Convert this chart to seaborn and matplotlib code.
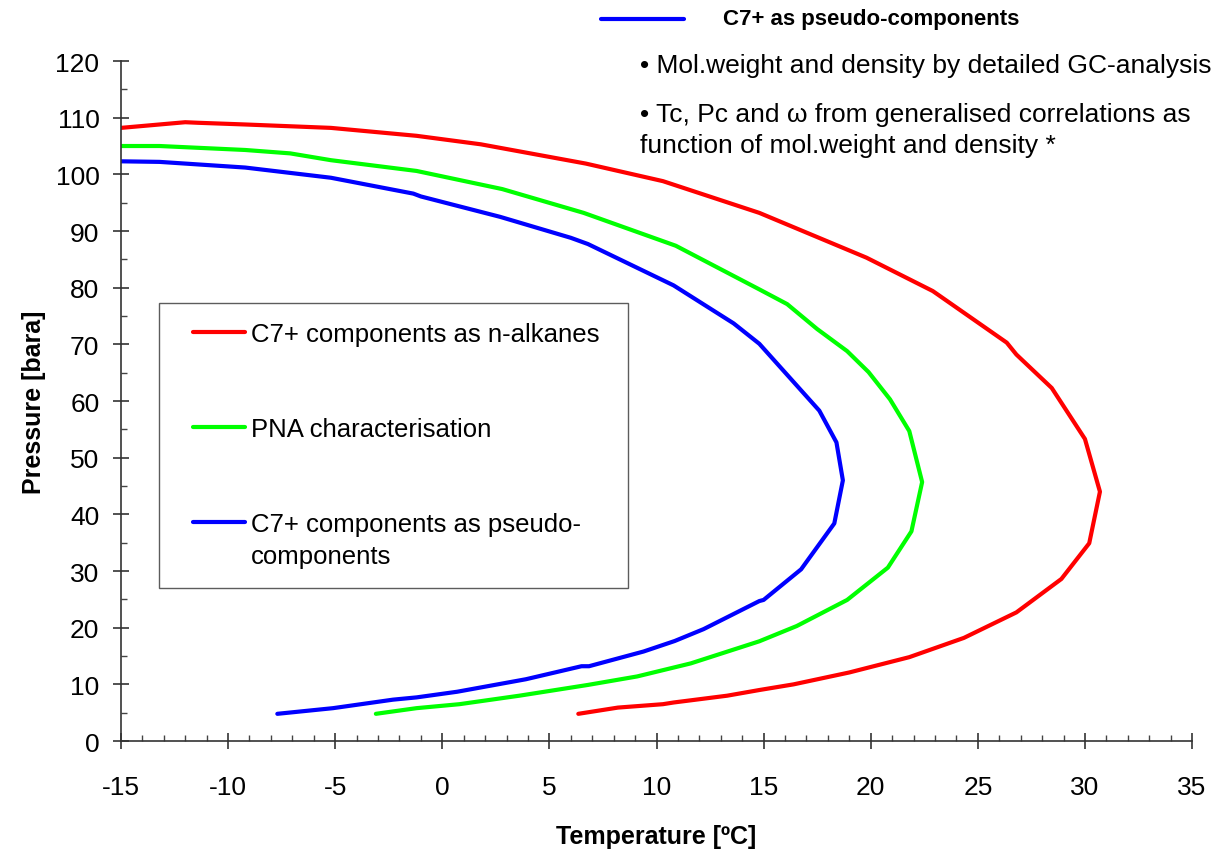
import matplotlib
matplotlib.use("Agg")
import matplotlib.pyplot as plt
from matplotlib.lines import Line2D
from matplotlib.ticker import MultipleLocator
import numpy as np
import pandas as pd
import seaborn as sns

# Phase envelopes (temperature in degC, pressure in bara)
alkane_t = [-15.0, -13.2, -12.0, -11.4, -9.2, -5.2, -1.2, 1.8, 6.7, 10.3, 14.8, 19.8,
            22.9, 26.35, 26.8, 28.45, 30.0, 30.7, 30.2, 28.9, 26.8, 24.35, 21.8, 19.0,
            16.4, 14.8, 13.3, 10.8, 10.3, 8.2, 6.35]
alkane_p = [108.2, 108.8, 109.2, 109.1, 108.8, 108.2, 106.8, 105.3, 101.9, 98.8, 93.2, 85.3,
            79.4, 70.3, 68.2, 62.3, 53.3, 44.0, 34.9, 28.6, 22.7, 18.2, 14.8, 12.1,
            10.0, 9.0, 8.0, 6.8, 6.5, 5.9, 4.8]

pna_t = [-15.0, -13.2, -9.2, -7.1, -5.2, -1.2, 2.8, 6.6, 10.9, 14.8, 16.1, 17.5,
         18.9, 19.9, 20.9, 21.8, 22.4, 21.9, 20.8, 18.9, 16.55, 14.8, 11.6, 9.1,
         6.8, 3.6, 0.8, -1.2, -3.1]
pna_p = [105.0, 105.0, 104.3, 103.7, 102.5, 100.6, 97.4, 93.2, 87.4, 79.7, 77.1, 72.7,
         68.8, 65.1, 60.3, 54.7, 45.7, 37.0, 30.6, 24.9, 20.3, 17.6, 13.7, 11.4,
         9.9, 8.0, 6.5, 5.8, 4.8]

pseudo_t = [-15.0, -13.2, -9.2, -5.2, -1.35, -1.0, 2.7, 6.0, 6.8, 10.8, 13.6, 14.8,
            17.6, 18.4, 18.7, 18.3, 16.75, 15.0, 14.8, 12.2, 10.85, 9.4, 6.85, 6.5,
            3.9, 0.7, -1.2, -2.3, -5.1, -7.7]
pseudo_p = [102.3, 102.2, 101.2, 99.4, 96.6, 96.1, 92.5, 88.8, 87.7, 80.4, 73.7, 70.1,
            58.3, 52.7, 46.0, 38.4, 30.3, 24.9, 24.7, 19.75, 17.65, 15.8, 13.2, 13.2,
            10.9, 8.7, 7.7, 7.3, 5.8, 4.8]

series_names = ["C7+ components as n-alkanes",
                "PNA characterisation",
                "C7+ components as pseudo-\ncomponents"]
series_colors = ["#FF0000", "#00FF00", "#0000FF"]

frames = []
for name, t, p in zip(series_names, [alkane_t, pna_t, pseudo_t], [alkane_p, pna_p, pseudo_p]):
    frames.append(pd.DataFrame({"T": t, "P": p, "series": name, "order": np.arange(len(t))}))
df = pd.concat(frames, ignore_index=True)

sns.set_style("white")
plt.rcParams["font.family"] = ["Liberation Sans", "DejaVu Sans"]
plt.rcParams["axes.unicode_minus"] = False
plt.rcParams["text.color"] = "black"
plt.rcParams["axes.labelcolor"] = "black"

fig = plt.figure(figsize=(12.18, 8.53), dpi=100)
ax = fig.add_axes([0.0993, 0.1301, 0.8794, 0.7972])

sns.lineplot(data=df, x="T", y="P", hue="series", units="series", estimator=None,
             sort=False, palette=dict(zip(series_names, series_colors)),
             linewidth=3.0, ax=ax, legend=False)

ax.set_xlim(-15, 35)
ax.set_ylim(0, 120)
ax.xaxis.set_major_locator(MultipleLocator(5))
ax.xaxis.set_minor_locator(MultipleLocator(1))
ax.yaxis.set_major_locator(MultipleLocator(10))
ax.yaxis.set_minor_locator(MultipleLocator(5))

for side in ["top", "right"]:
    ax.spines[side].set_visible(False)
for side in ["left", "bottom"]:
    ax.spines[side].set_color("#333333")
    ax.spines[side].set_linewidth(1.2)

ax.tick_params(axis="both", which="both", bottom=True, left=True, top=False, right=False)
ax.tick_params(axis="both", which="major", direction="inout", length=11, width=1.1,
               color="#222222", labelcolor="black", labelsize=19)
ax.tick_params(axis="both", which="minor", direction="in", length=4.5, width=1.0,
               color="#444444")
ax.tick_params(axis="x", which="major", pad=19)
ax.tick_params(axis="y", which="major", pad=10)

ax.set_xlabel("Temperature [ºC]", fontsize=18, fontweight="bold", labelpad=18)
ax.set_ylabel("Pressure [bara]", fontsize=18, fontweight="bold", labelpad=7)

handles = [Line2D([], [], color=c, linewidth=3.0) for c in series_colors]
leg = ax.legend(handles, series_names, loc="upper left", mode="expand",
                bbox_to_anchor=(0.0355, 0.30, 0.438, 0.344), frameon=True, fancybox=False,
                fontsize=18.5, labelspacing=2.75, handlelength=2.6, handletextpad=0.23,
                borderpad=0.75, borderaxespad=0.0)
leg.get_frame().set_edgecolor("#333333")
leg.get_frame().set_linewidth(1.0)
leg.get_texts()[2].set_linespacing(1.45)
# shorten the handle lines from the left, and put the handle of the
# two-line entry level with its first line
for h in leg.legend_handles:
    xd = np.asarray(h.get_xdata(), dtype=float)
    h.set_xdata(np.linspace(xd[0] + 10.5, xd[-1], len(xd)))
last = leg.legend_handles[2]
last.set_ydata(np.asarray(last.get_ydata(), dtype=float) + 13.5)

# Annotation block above the plot
fig.add_artist(Line2D([601 / 1218, 684 / 1218], [1 - 20 / 853, 1 - 20 / 853],
                      color="#0000FF", linewidth=3.0))
fig.text(723 / 1218, 1 - 19 / 853, "C7+ as pseudo-components", fontsize=16,
         fontweight="bold", va="center", ha="left")
fig.text(640 / 1218, 1 - 66 / 853, "• Mol.weight and density by detailed GC-analysis",
         fontsize=19, va="center", ha="left")
fig.text(640 / 1218, 1 - 115 / 853, "• Tc, Pc and ω from generalised correlations as",
         fontsize=19, va="center", ha="left")
fig.text(640 / 1218, 1 - 146 / 853, "function of mol.weight and density *",
         fontsize=19, va="center", ha="left")

fig.savefig("out.png", dpi=100, facecolor="white")
